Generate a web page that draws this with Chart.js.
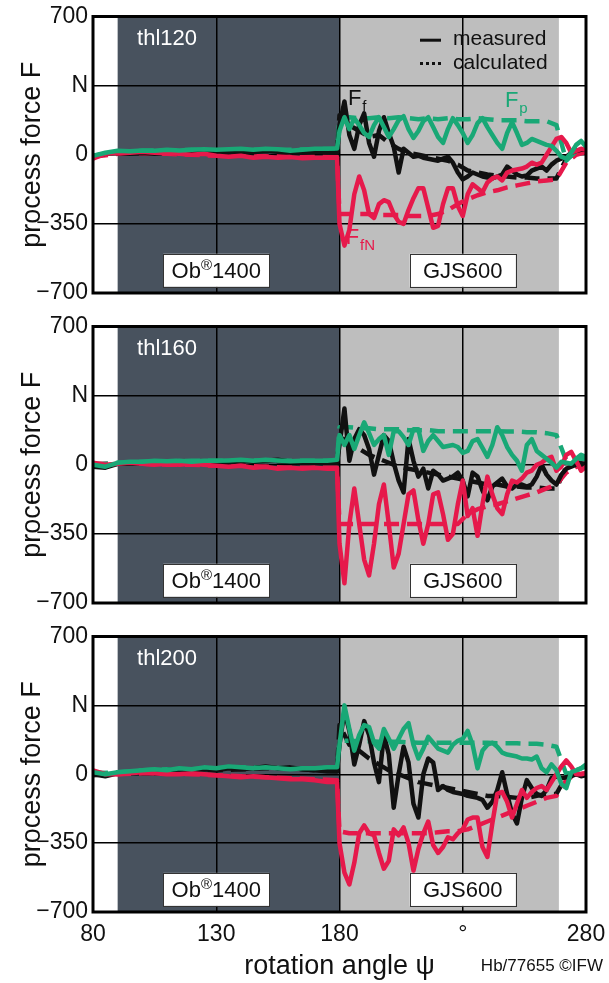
<!DOCTYPE html>
<html>
<head>
<meta charset="utf-8">
<script src="https://cdn.jsdelivr.net/npm/chart.js@4.4.1/dist/chart.umd.min.js"></script>
<style>
  body { margin: 0; background: #fff; }
  #wrap { position: relative; width: 609px; height: 983px; }
  canvas { position: absolute; left: 0; }
</style>
</head>
<body>
<div id="wrap">
  <canvas id="c1" width="609" height="310" style="top:0;width:609px;height:310px"></canvas>
  <canvas id="c2" width="609" height="310" style="top:310px;width:609px;height:310px"></canvas>
  <canvas id="c3" width="609" height="363" style="top:620px;width:609px;height:363px"></canvas>
</div>
<script>
'use strict';

// rotation angle, measured signals (deg)
var angleM = [80, 85, 90, 95, 100, 105, 110, 115, 120, 125, 130, 135, 140, 145, 150, 155, 160, 165, 170, 175, 179,
  180, 182, 184, 186, 188, 190, 192, 194, 196, 198, 200, 202, 204, 206, 208, 210, 212, 214, 216, 218, 220,
  222, 224, 226, 228, 230, 232, 234, 236, 238, 240, 242, 244, 246, 248, 250, 252, 254, 256, 258, 260,
  262, 264, 266, 268, 270, 272, 274, 276, 278, 280];
// rotation angle, calculated signals (deg)
var angleC = [80, 90, 100, 110, 120, 130, 140, 150, 160, 170, 179,
  180, 184, 188, 192, 196, 200, 204, 208, 212, 216, 220, 224, 228, 232, 236, 240, 244, 248, 252, 256, 260,
  264, 268, 272, 276, 280];

// thl120 (N)
var ffMeas120 = [-10, 5, 10, 5, 10, 5, 12, 8, 15, 20, 12, 10, 15, 12, 20, 15, 12, 10, 15, 12, 10,
  150, 270, 100, 30, 150, 210, 60, -10, 120, 190, 110, 40, -90, 30, 10, -10, -5, -15, -20, -25, -30,
  -20, -10, -40, -90, -125, -110, -90, -100, -110, -115, -120, -110, -100, -60, -80, -100, -110, -105, -80, -70,
  -60, -80, -50, -30, -20, -10, 10, 20, 25, 25];
var ffnMeas120 = [-20, 5, 10, 10, 15, 10, 8, 5, 0, 5, -5, -10, -5, -15, -10, -15, -12, -18, -15, -15, -15,
  -350, -460, -380, -200, -110, -180, -300, -320, -250, -230, -240, -300, -340, -350, -280, -220, -170, -170, -270, -370, -360,
  -250, -170, -170, -260, -310, -200, -150, -170, -190, -140, -120, -110, -130, -90, -80, -75, -70, -60, -40, -50,
  -40, 0, 40, 80, 90, 60, 10, 20, 30, 25];
var fpMeas120 = [-5, 10, 20, 18, 22, 20, 25, 22, 25, 28, 25, 28, 30, 25, 30, 28, 20, 25, 30, 30, 32,
  120, 190, 130, 185, 150, 110, 90, 150, 190, 140, 90, 130, 175, 195, 130, 85, 120, 170, 190, 140, 90,
  60, 130, 185, 150, 110, 60, 100, 160, 185, 140, 100, 60, 30, 110, 165, 110, 50, 60, 80, 70,
  60, 50, 45, 20, -10, -20, 10, 50, 70, 40];
var ffCalc120 = [-5, 10, 10, 12, 15, 12, 15, 18, 15, 12, 12,
  200, 150, 120, 90, 100, 60, 30, 10, 0, -10, -20, -30, -50, -80, -90, -100, -105, -110, -115, -115, -120,
  -120, -120, -20, 10, 25];
var ffnCalc120 = [-10, 5, 8, 5, 0, -5, -5, -8, -10, -12, -12,
  -300, -300, -300, -300, -305, -305, -305, -310, -310, -310, -300, -280, -250, -225, -205, -190, -180, -165, -155, -145, -135,
  -130, -125, -40, 0, 15];
var fpCalc120 = [-5, 15, 20, 22, 25, 22, 25, 25, 25, 28, 30,
  180, 190, 185, 185, 190, 185, 190, 185, 180, 185, 180, 185, 180, 180, 185, 180, 175, 175, 175, 170, 170,
  170, 150, -30, 20, 40];

// thl160 (N)
var ffMeas160 = [-10, -15, 5, 5, 10, 5, 10, 15, 10, 12, 8, 10, 20, 15, 20, 25, 15, 10, 10, 10, 10,
  100, 285, 20, 130, 180, 150, 80, -50, 50, 150, 120, 10, -80, -140, 130, 20, -60, -20, -120, -30, -50,
  -80, -70, -60, -40, -80, -160, -40, -60, -130, -180, -110, -90, -70, -110, -120, -100, -100, -110, -100, -60,
  0, -50, -80, -100, -50, -20, -10, 0, 0, 5];
var ffnMeas160 = [10, 0, 5, 10, 5, 0, 5, 0, 5, 0, -5, -10, -5, -15, -10, -20, -15, -20, -15, -20, -20,
  -400, -600, -300, -120, -300, -480, -560, -400, -200, -100, -300, -520, -450, -300, -150, -130, -280, -400, -300, -150, -140,
  -250, -380, -350, -200, -80, -260, -220, -360, -200, -60, -150, -220, -250, -150, -80, -90, -70, -40, -30, 0,
  10, 30, 40, -30, -10, 50, 65, 20, -30, -10];
var fpMeas160 = [0, -10, 10, 15, 15, 20, 18, 20, 15, 20, 20, 22, 25, 20, 25, 22, 18, 20, 20, 20, 25,
  150, 100, 150, 80, 150, 215, 160, 100, 130, 150, 50, 170, 170, 140, 100, 180, 180, 70, 120, 150, 120,
  90, 95, 100, 90, 60, 70, 120, 130, 85, 40, 100, 190, 150, 90, 50, 20, -30, 100, 130, 70,
  50, 30, 10, -15, 15, 10, 5, 30, 50, 40];
var ffCalc160 = [-10, 5, 10, 10, 8, 10, 15, 20, 15, 10, 10,
  150, 100, 80, 50, 30, 10, -10, -20, -30, -40, -50, -60, -70, -80, -90, -100, -100, -110, -110, -115, -115,
  -120, -120, -10, 10, 5];
var ffnCalc160 = [5, 5, 5, 0, 0, -5, -5, -10, -15, -15, -15,
  -300, -300, -300, -300, -300, -300, -300, -300, -300, -300, -300, -300, -300, -250, -225, -210, -200, -185, -170, -155, -140,
  -120, -100, -40, -10, 0];
var fpCalc160 = [0, 10, 15, 18, 20, 20, 22, 22, 20, 20, 22,
  190, 190, 185, 185, 180, 180, 180, 175, 175, 175, 170, 170, 170, 170, 170, 170, 170, 168, 168, 165, 165,
  160, 150, 20, 30, 30];

// thl200 (N)
var ffMeas200 = [0, -10, 5, 10, 15, 15, 20, 25, 20, 25, 20, 30, 25, 30, 40, 30, 35, 25, 20, 15, 15,
  150, 320, 220, 50, 150, 270, 200, 60, -40, 200, 100, -170, 0, 140, 60, -150, -220, 0, 80, 60, -80,
  -60, -80, -90, -95, -100, -110, -115, -120, -130, -170, -140, -80, 10, -100, -200, -250, -120, -30, -70, -100,
  -110, -80, -20, -10, -20, -15, -10, 0, -10, -5];
var ffnMeas200 = [20, 0, 0, 5, 10, 5, 0, 0, 5, 0, -5, -10, -15, -10, -15, -20, -25, -25, -30, -40, -40,
  -350, -500, -560, -450, -300, -260, -300, -310, -400, -480, -440, -280, -310, -270, -350, -490, -380, -300, -240, -360, -400,
  -370, -320, -330, -300, -280, -230, -220, -220, -370, -420, -250, -100, -90, -140, -220, -150, -80, -120, -90, -70,
  -60, -80, -40, 0, 40, 70, 40, 0, 0, 5];
var fpMeas200 = [10, 0, 10, 15, 20, 25, 20, 30, 25, 35, 30, 40, 35, 30, 35, 30, 25, 30, 30, 35, 35,
  150, 350, 230, 120, 200, 250, 240, 160, 130, 230, 180, 130, 180, 230, 260, 150, 80, 130, 190, 160, 130,
  120, 110, 150, 170, 180, 220, 150, 30, 120, 150, 160, 140, 110, 100, 95, 90, 80, 80, 75, 90,
  30, 10, 50, 20, -50, -70, 10, 20, 30, 50];
var ffCalc200 = [-5, 5, 15, 20, 20, 20, 25, 30, 30, 20, 15,
  250, 150, 120, 80, 50, 20, 0, -20, -40, -50, -60, -70, -80, -90, -100, -110, -110, -115, -120, -120, -110,
  -100, -100, -10, 0, -5];
var ffnCalc200 = [10, 0, 5, 5, 0, -5, -10, -15, -20, -25, -30,
  -290, -300, -300, -300, -300, -300, -300, -300, -300, -300, -295, -290, -290, -280, -260, -240, -220, -200, -180, -160, -140,
  -120, -110, -30, 0, 5];
var fpCalc200 = [5, 10, 20, 25, 25, 30, 35, 35, 30, 30, 35,
  170, 170, 168, 168, 165, 165, 165, 162, 160, 160, 160, 160, 160, 160, 160, 160, 158, 158, 157, 155, 155,
  150, 140, 0, 20, 40];

var yTicks = [-700, -350, 0, 350, 700];
var xTicks = [80, 130, 180, 230, 280];

var BLACK = '#111111';
var RED = '#e6194b';
var GREEN = '#19a876';
var DARK = '#48525e';
var LIGHT = '#bebebe';
var FONT = "'Liberation Sans', Arial, Helvetica, sans-serif";

Chart.defaults.font.family = FONT;
Chart.defaults.color = '#000';

var series = function(angles, values, color, dashed) {
	return {
		data: angles.map(function(a, i) { return {x: a, y: values[i]}; }),
		borderColor: color,
		borderWidth: 4.5,
		borderDash: dashed ? [15, 8] : [],
		borderCapStyle: 'butt',
		borderJoinStyle: 'round',
		pointRadius: 0,
		fill: false,
		tension: 0
	};
};

var font = function(size) {
	return size + 'px ' + FONT;
};

// F with subscript
var forceLabel = function(ctx, x, y, sub, color) {
	ctx.fillStyle = color;
	ctx.textAlign = 'left';
	ctx.textBaseline = 'alphabetic';
	ctx.font = font(22);
	ctx.fillText('F', x, y);
	var w = ctx.measureText('F').width;
	ctx.font = font(15);
	ctx.fillText(sub, x + w + 1, y + 6);
};

var labelBox = function(ctx, cx, cy, parts) {
	var w = 0;
	parts.forEach(function(p) {
		ctx.font = font(p.size);
		w += ctx.measureText(p.text).width;
	});
	var bw = 106, bh = 33;
	ctx.fillStyle = '#fff';
	ctx.fillRect(cx - bw / 2, cy - bh / 2, bw, bh);
	ctx.strokeStyle = '#333';
	ctx.lineWidth = 1;
	ctx.strokeRect(Math.round(cx - bw / 2) + 0.5, Math.round(cy - bh / 2) + 0.5, bw, bh);
	ctx.fillStyle = '#111';
	ctx.textAlign = 'left';
	ctx.textBaseline = 'alphabetic';
	var x = cx - w / 2;
	parts.forEach(function(p) {
		ctx.font = font(p.size);
		ctx.fillText(p.text, x, cy + 8 + (p.rise || 0));
		x += ctx.measureText(p.text).width;
	});
};

var decor = {
	id: 'decor',
	beforeDraw: function(chart) {
		var a = chart.chartArea, xs = chart.scales.x, ctx = chart.ctx;
		ctx.save();
		ctx.fillStyle = '#fff';
		ctx.fillRect(a.left, a.top, a.width, a.height);
		ctx.fillStyle = DARK;
		ctx.fillRect(xs.getPixelForValue(90), a.top, xs.getPixelForValue(180) - xs.getPixelForValue(90), a.height);
		ctx.fillStyle = LIGHT;
		ctx.fillRect(xs.getPixelForValue(180), a.top, xs.getPixelForValue(269) - xs.getPixelForValue(180), a.height);
		ctx.restore();
	},
	afterDraw: function(chart, args, opts) {
		var a = chart.chartArea, xs = chart.scales.x, ys = chart.scales.y, ctx = chart.ctx;
		var px = function(v) { return xs.getPixelForValue(v); };
		var py = function(v) { return ys.getPixelForValue(v); };
		ctx.save();
		ctx.strokeStyle = '#000';
		ctx.lineWidth = 3;
		ctx.strokeRect(a.left, a.top, a.width, a.height);

		ctx.fillStyle = '#fff';
		ctx.font = font(22);
		ctx.textAlign = 'left';
		ctx.textBaseline = 'middle';
		ctx.fillText(opts.name, px(97.9), py(585));

		labelBox(ctx, px(130), py(-585), [{text: 'Ob', size: 22}, {text: '®', size: 15, rise: -8}, {text: '1400', size: 22}]);
		labelBox(ctx, px(230), py(-585), [{text: 'GJS600', size: 22}]);

		if (opts.legend) {
			ctx.strokeStyle = '#111';
			ctx.lineWidth = 3;
			ctx.beginPath();
			ctx.moveTo(420, py(580));
			ctx.lineTo(441, py(580));
			ctx.stroke();
			ctx.setLineDash([3, 3]);
			ctx.beginPath();
			ctx.moveTo(420, py(462));
			ctx.lineTo(441, py(462));
			ctx.stroke();
			ctx.setLineDash([]);
			ctx.fillStyle = '#111';
			ctx.font = font(21);
			ctx.textBaseline = 'middle';
			ctx.fillText('measured', 453, py(585));
			ctx.fillText('calculated', 453, py(465));

			forceLabel(ctx, px(183.4), py(250), 'f', BLACK);
			forceLabel(ctx, px(247.1), py(240), 'p', GREEN);
			forceLabel(ctx, px(182.5), py(-450), 'fN', RED);
		}
		if (opts.credit) {
			ctx.fillStyle = '#111';
			ctx.font = font(17);
			ctx.textAlign = 'right';
			ctx.textBaseline = 'middle';
			ctx.fillText('Hb/77655 \u00a9IFW', 603, 346);
		}
		ctx.restore();
	}
};

var makePanel = function(id, name, ff, ffn, fp, ffc, ffnc, fpc, first, last) {
	var ctx = document.getElementById(id).getContext('2d');
	return new Chart(ctx, {
		type: 'line',
		data: {
			datasets: [
				series(angleM, fp, GREEN, false),
				series(angleM, ffn, RED, false),
				series(angleM, ff, BLACK, false),
				series(angleC, fpc, GREEN, true),
				series(angleC, ffnc, RED, true),
				series(angleC, ffc, BLACK, true)
			]
		},
		options: {
			responsive: false,
			animation: false,
			events: [],
			layout: {
				padding: {top: 12, right: 23, bottom: last ? 0 : 17, left: 0}
			},
			scales: {
				x: {
					type: 'linear',
					min: 80,
					max: 280,
					afterBuildTicks: function(s) { s.ticks = xTicks.map(function(v) { return {value: v}; }); },
					afterFit: function(s) { s.height = last ? 71 : 0; },
					ticks: {
						display: last,
						padding: 0,
						font: {size: 23, lineHeight: 2},
						color: '#111',
						maxRotation: 0,
						callback: function(v) { return v === 230 ? '\u00b0' : String(v); }
					},
					grid: {color: '#000', lineWidth: 1.5, drawTicks: false},
					border: {display: false},
					title: {
						display: last,
						text: 'rotation angle \u03c8',
						font: {size: 27},
						color: '#111',
						padding: {top: 0, bottom: 0}
					}
				},
				y: {
					min: -700,
					max: 700,
					afterBuildTicks: function(s) { s.ticks = yTicks.map(function(v) { return {value: v}; }); },
					afterFit: function(s) { s.width = 93; },
					ticks: {
						padding: 5,
						font: {size: 23, lineHeight: 1},
						color: '#111',
						callback: function(v) {
							if (v === 350) return 'N';
							return v < 0 ? '\u2212' + Math.abs(v) : String(v);
						}
					},
					grid: {color: '#000', lineWidth: 1.5, drawTicks: false},
					border: {display: false},
					title: {
						display: true,
						text: 'process force F',
						font: {size: 27},
						color: '#111',
						padding: {top: 16, bottom: 0}
					}
				}
			},
			plugins: {
				legend: {display: false},
				tooltip: {enabled: false},
				decor: {name: name, legend: first, credit: last}
			}
		},
		plugins: [decor]
	});
};

makePanel('c1', 'thl120', ffMeas120, ffnMeas120, fpMeas120, ffCalc120, ffnCalc120, fpCalc120, true, false);
makePanel('c2', 'thl160', ffMeas160, ffnMeas160, fpMeas160, ffCalc160, ffnCalc160, fpCalc160, false, false);
makePanel('c3', 'thl200', ffMeas200, ffnMeas200, fpMeas200, ffCalc200, ffnCalc200, fpCalc200, false, true);
</script>
</body>
</html>
